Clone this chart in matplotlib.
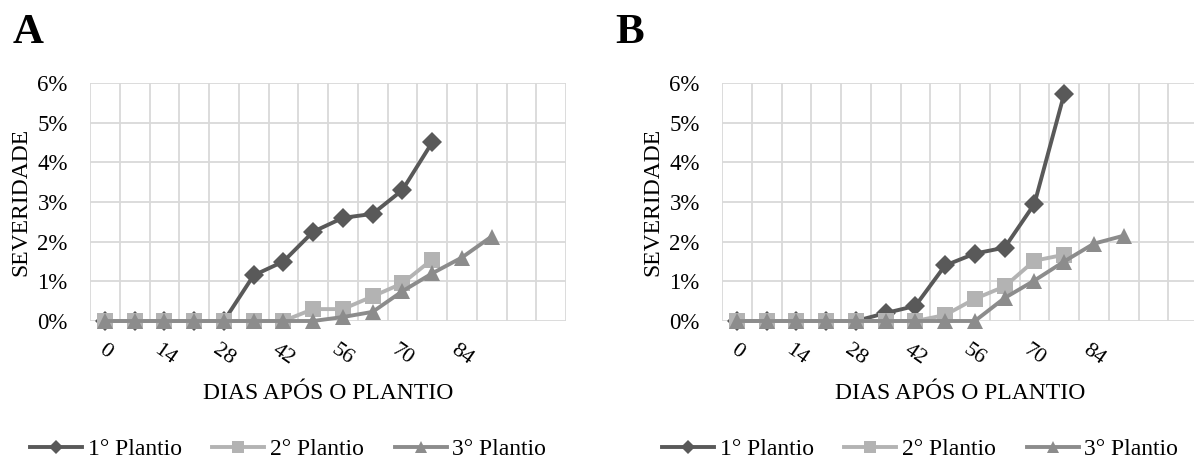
import matplotlib
matplotlib.use("Agg")
import matplotlib.pyplot as plt
import matplotlib.transforms as mtrans
import numpy as np
from matplotlib.lines import Line2D

# ---- data ----
categories = list(range(16))          # category slots on the x axis (7-day steps)
tick_positions = [0, 2, 4, 6, 8, 10, 12]
tick_labels = ["0", "14", "28", "42", "56", "70", "84"]
series_names = ["1° Plantio", "2° Plantio", "3° Plantio"]

a_p1 = [0, 0, 0, 0, 0, 1.15, 1.5, 2.25, 2.6, 2.7, 3.3, 4.5]
a_p2 = [0, 0, 0, 0, 0, 0, 0, 0.3, 0.3, 0.62, 0.95, 1.55]
a_p3 = [0, 0, 0, 0, 0, 0, 0, 0, 0.1, 0.23, 0.75, 1.2, 1.6, 2.13]

b_p1 = [0, 0, 0, 0, 0, 0.2, 0.38, 1.4, 1.7, 1.85, 2.95, 5.72]
b_p2 = [0, 0, 0, 0, 0, 0, 0, 0.15, 0.56, 0.87, 1.52, 1.67]
b_p3 = [0, 0, 0, 0, 0, 0, 0, 0, 0, 0.58, 1.02, 1.5, 1.95, 2.15]

colors = ["#595959", "#b3b3b3", "#8c8c8c"]
markers = ["D", "s", "^"]
msizes = [10, 11, 12]

plt.rcParams['font.family'] = ['Liberation Serif', 'DejaVu Serif']

W, H = 1194, 469
fig = plt.figure(figsize=(W / 100, H / 100), dpi=100)

def px_axes(left, top, width, height):
    return fig.add_axes([left / W, 1 - (top + height) / H, width / W, height / H])

panels = [
    ("A", 90, [a_p1, a_p2, a_p3], 13),
    ("B", 722, [b_p1, b_p2, b_p3], 615),
]

for letter, left, data, letter_x in panels:
    ax = px_axes(left, 83, 476, 238)
    ax.set_xlim(-0.5, len(categories) - 0.5)
    ax.set_ylim(0, 6)
    # grid
    for xb in np.arange(-0.5, len(categories), 1.0):
        ax.axvline(xb, color="#d9d9d9", lw=1.3, zorder=0)
    for yv in range(0, 7):
        ax.axhline(yv, color="#d9d9d9", lw=1.3, zorder=0)
    for s in ax.spines.values():
        s.set_visible(False)
    for i, vals in enumerate(data):
        ax.plot(categories[:len(vals)], vals, color=colors[i], lw=2.8,
                marker=markers[i], markersize=msizes[i], markeredgewidth=0,
                zorder=3 + i, clip_on=False, label=series_names[i])
    ax.set_yticks(range(0, 7))
    ax.set_yticklabels([f"{v}%" for v in range(0, 7)], fontsize=16.5)
    ax.set_xticks(tick_positions)
    ax.set_xticklabels(tick_labels, fontsize=16, rotation=-35, ha="center", va="top")
    offset = mtrans.ScaledTranslation(8 / 100, 0, fig.dpi_scale_trans)
    for lab in ax.get_xticklabels():
        lab.set_transform(lab.get_transform() + offset)
    ax.tick_params(axis="both", length=0)
    ax.tick_params(axis="y", pad=16)
    ax.tick_params(axis="x", pad=14)
    ax.set_ylabel("SEVERIDADE", fontsize=17, labelpad=4)
    ax.set_xlabel("DIAS APÓS O PLANTIO", fontsize=17, labelpad=10)
    fig.text(letter_x / W, 1 - 43 / H, letter, fontsize=31, fontweight="bold",
             ha="left", va="baseline")
    handles = [Line2D([], [], color=colors[i], lw=2.8, marker=markers[i],
                      markersize=msizes[i] * 0.75, markeredgewidth=0)
               for i in range(3)]
    leg = fig.legend(handles, series_names, loc="center",
                     bbox_to_anchor=((left - 90 + 288) / W, 1 - 449 / H),
                     ncol=3, frameon=False, fontsize=17, handlelength=2.2,
                     handletextpad=0.25, columnspacing=1.3)

fig.savefig("out.png", dpi=100)
